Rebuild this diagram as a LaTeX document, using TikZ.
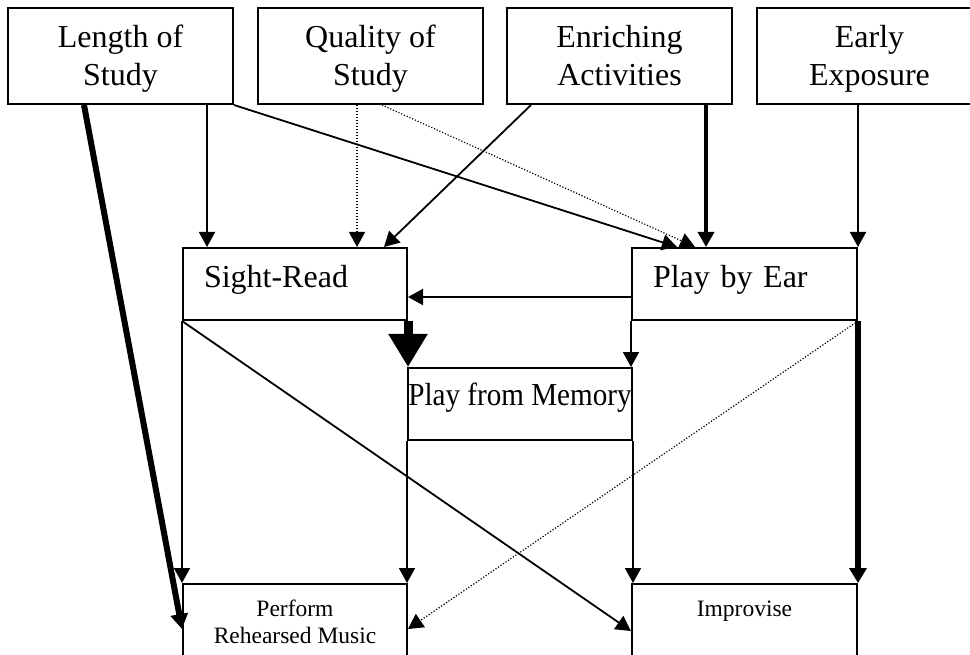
\documentclass[tikz,border=0pt]{standalone}
\usepackage{fontspec}
\setmainfont{Liberation Serif}
\usetikzlibrary{arrows.meta,calc}
\newcommand{\twolines}[4]{\rule{0pt}{#3pt}#1\\#2\rule[-#4pt]{0pt}{#4pt}}
\begin{document}
\begin{tikzpicture}[x=1pt,y=-1pt,
				box/.style={draw, line width=2pt, inner sep=0pt, minimum width=225pt, minimum height=96pt, align=center, font=\fontsize{32}{38}\selectfont},
				lowbox/.style={box, minimum height=72pt},
				smallbox/.style={box, minimum height=74pt, font=\fontsize{23.5}{27}\selectfont},
				arr/.style={-{Triangle[width=16pt,length=15pt]}, line width=1.8pt},
				dots/.style={arr, line width=1.2pt, dash pattern=on 1.2pt off 1.8pt},
				heavy/.style={arr, line width=6pt, -{Triangle[width=17pt,length=15pt]}}
			]
				\useasboundingbox (0,0) rectangle (970,655);
				
				\node[box](len) at (120.5,56) {\twolines{Length of}{Study}{30}{8}};
				\node[box](qual) at (370.5,56) {\twolines{Quality of}{Study}{30}{8}};
				\node[box](enr) at (619.5,56) {\twolines{Enriching}{Activities}{30}{8}};
				\node[box](early) at (869.5,56) {\twolines{Early}{Exposure}{30}{8}};
				
				\node[lowbox, minimum width=224pt, text width=182pt, align=left, text height=20pt, text depth=12pt](sread) at (295,284) {Sight-Read};
				\node[lowbox, text width=183pt, align=left, text height=20pt, text depth=12pt](ear) at (744.5,284) {Play by Ear};
				\node[lowbox, minimum width=224pt, text height=14pt, text depth=12pt](memory) at (520,404) {\scalebox{0.91}[1]{Play from Memory}};
				
				\node[smallbox, minimum width=224pt](perform) at (295,621) {\twolines{Perform}{Rehearsed Music}{22}{5}};
				\node[smallbox, text height=4pt, text depth=14pt](improv) at (744.5,621) {Improvise};
				
				\coordinate[](ln1) at ($(len.south west)+(77,0)$);
				\coordinate[](qu1) at ($(qual.south west)+(125,0)$);
				\coordinate[](en1) at ($(enr.south west)+(25,0)$);
				\coordinate[](sr1) at ($(sread.north west)+(25,0)$);
				\coordinate[](sr2) at ($(sread.north west)+(175,0)$);
				\coordinate[](sr3) at ($(sread.north west)+(202,0)$);
				\coordinate[](ear1) at ($(ear.north west)+(46,0)$);
				\coordinate[](ear2) at ($(ear.north west)+(64,0)$);
				\coordinate[](ear3) at ($(ear.north west)+(75,0)$);
				\coordinate[](ear4) at ($(ear.west)+(0,13)$);
				\coordinate[](pf1) at ($(perform.north west)+(0,46)$);
				\coordinate[](pf2) at ($(perform.north east)+(0,46)$);
				\coordinate[](im1) at ($(improv.north west)+(0,48)$);
				
				% into the two skills
				\draw[arr] (sr1 |- len.south) -- (sr1);
				\draw[arr] (len.south east) -- (ear1);
				\draw[dots] (sr2 |- qual.south) -- (sr2);
				\draw[dots] (qu1) -- (ear2);
				\draw[arr] (en1) -- (sr3);
				\draw[arr, line width=3.5pt] (ear3 |- enr.south) -- (ear3);
				\draw[arr] (ear.north east |- early.south) -- (ear.north east);
				\draw[arr] (ear4) -- (sread.east |- ear4);
				
				% into memory
				\draw[heavy, line width=9pt, -{Triangle[width=37pt,length=33pt]}] (sread.south east) -- (sread.south east |- memory.north);
				\draw[arr] (ear.south west) -- (ear.south west |- memory.north);
				
				% into the outcomes
				\draw[heavy] (ln1) -- (pf1);
				\draw[arr] (sread.south west) -- (perform.north west);
				\draw[arr] (memory.south west) -- (memory.south west |- perform.north);
				\draw[arr] (memory.south east) -- (memory.south east |- improv.north);
				\draw[heavy] (ear.south east) -- (improv.north east);
				\draw[arr] (sread.south west) -- (im1);
				\draw[dots] (ear.south east) -- (pf2);
				\end{tikzpicture}
\end{document}
